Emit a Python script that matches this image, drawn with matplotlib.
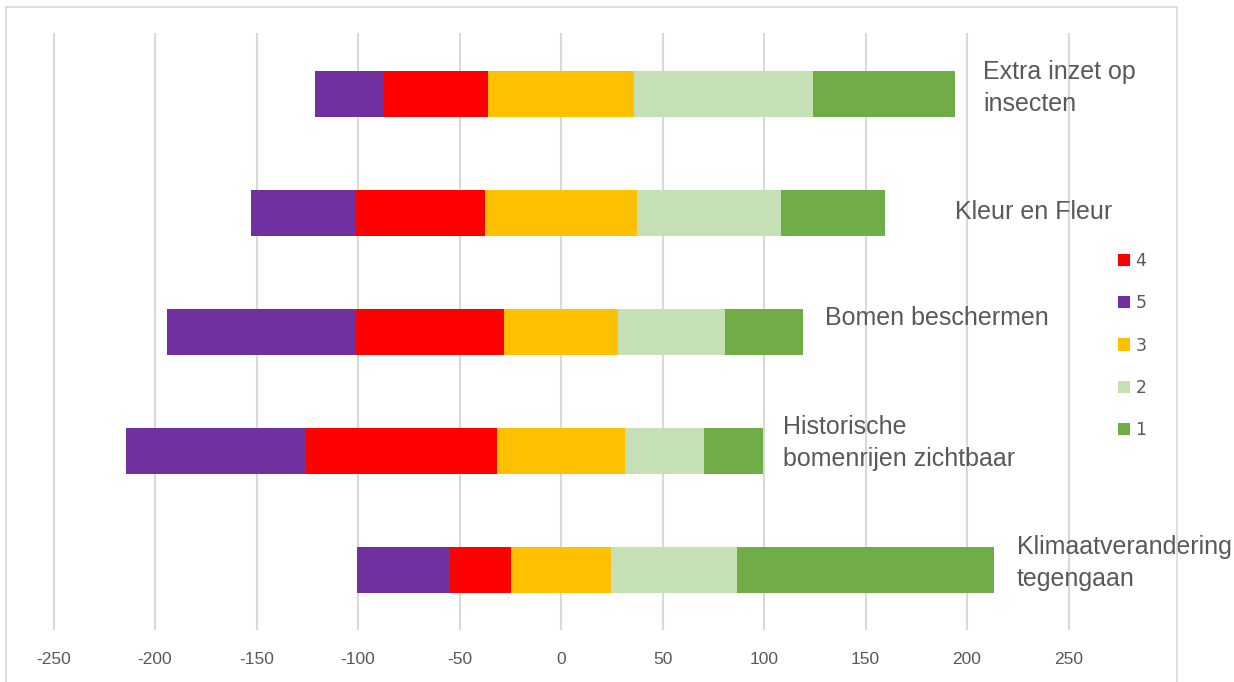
import matplotlib
matplotlib.use("Agg")
import matplotlib.pyplot as plt
from matplotlib.patches import Rectangle, Patch
import numpy as np

categories = ["Extra inzet op\ninsecten", "Kleur en Fleur", "Bomen beschermen",
              "Historische\nbomenrijen zichtbaar", "Klimaatverandering\ntegengaan"]
score1 = [70, 51, 38, 29, 127]
score2 = [88, 71, 53, 39, 62]
score3 = [72, 75, 56, 63, 49]
score4 = [51, 64, 73, 94, 30]
score5 = [34, 51, 93, 89, 46]
xticks = [-250, -200, -150, -100, -50, 0, 50, 100, 150, 200, 250]

colors = {"1": "#70AD47", "2": "#C5E0B4", "3": "#FFC000", "4": "#FF0000", "5": "#7030A0"}

W, H = 1234, 682
fig = plt.figure(figsize=(W / 100, H / 100), dpi=100)

# axes placement in pixels
ax_l, ax_r, ax_t, ax_b = 20, 1100, 33, 630
ax = fig.add_axes([ax_l / W, 1 - ax_b / H, (ax_r - ax_l) / W, (ax_b - ax_t) / H])

x0, scale = 561, 2.03
ax.set_xlim((ax_l - x0) / scale, (ax_r - x0) / scale)
y0, ystep = 94, 119
ax.set_ylim((ax_b - y0) / ystep, (ax_t - y0) / ystep)

y = np.arange(len(categories))
s1, s2, s3, s4, s5 = map(np.array, (score1, score2, score3, score4, score5))
h = 0.39
ax.barh(y, s5, left=-(s3 / 2 + s4 + s5), height=h, color=colors["5"], zorder=3)
ax.barh(y, s4, left=-(s3 / 2 + s4), height=h, color=colors["4"], zorder=3)
ax.barh(y, s3, left=-s3 / 2, height=h, color=colors["3"], zorder=3)
ax.barh(y, s2, left=s3 / 2, height=h, color=colors["2"], zorder=3)
ax.barh(y, s1, left=s3 / 2 + s2, height=h, color=colors["1"], zorder=3)

ax.set_xticks(xticks)
ax.set_xticklabels([str(t) for t in xticks])
ax.set_yticks([])
ax.grid(axis="x", color="#D9D9D9", linewidth=1.5, zorder=0)
for sp in ax.spines.values():
    sp.set_visible(False)
ax.tick_params(axis="x", length=0, pad=16, labelsize=12.5, labelcolor="#595959")
for lbl in ax.get_xticklabels():
    lbl.set_family("Liberation Sans")

# category labels placed next to the bars (pixel positions converted to data)
label_px = [(983, 88), (955, 212), (825, 318), (783, 443), (1017, 563)]
for txt, (px, py) in zip(categories, label_px):
    ax.text((px - x0) / scale, (py - y0) / ystep, txt, ha="left", va="center",
            fontsize=18, color="#595959", family="Liberation Sans",
            linespacing=1.45, clip_on=False)

# legend
order = ["4", "5", "3", "2", "1"]
handles = [Patch(facecolor=colors[k], edgecolor="none") for k in order]
leg = fig.legend(handles, order, loc="upper left",
                 bbox_to_anchor=(1118 / W, 1 - 252 / H), frameon=False,
                 fontsize=12.5, labelcolor="#595959", handlelength=0.7,
                 handleheight=0.7, handletextpad=0.3, labelspacing=1.4,
                 borderpad=0, borderaxespad=0)

# chart border
fig.patches.append(Rectangle((6 / W, -0.02), (1177 - 6) / W, 1 - 7 / H + 0.02,
                             transform=fig.transFigure, fill=False,
                             edgecolor="#D9D9D9", linewidth=1.2))

fig.savefig("out.png", dpi=100, facecolor="white")
